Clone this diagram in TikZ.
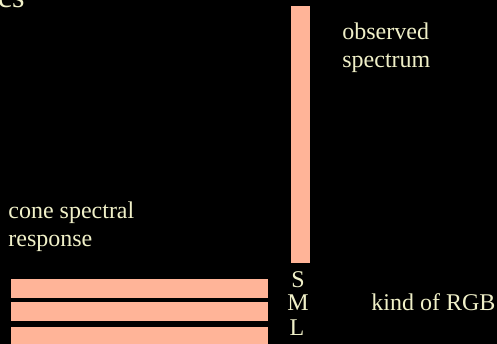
\documentclass[tikz,border=0pt]{standalone}
\usepackage{fontspec}
\setmainfont{Liberation Serif}
\usetikzlibrary{positioning}
\definecolor{bgblack}{RGB}{0,0,0}
\definecolor{barsalmon}{RGB}{255,180,152}
\definecolor{textcream}{RGB}{240,240,200}
\tikzset{
  every picture/.style={line width=0.75pt},
  bar/.style={fill=barsalmon, draw=none, inner sep=0pt, anchor=north west},
  label/.style={text=textcream, inner sep=0pt, anchor=base west, align=left,
    font=\fontsize{24}{28}\selectfont},
}

\begin{document}
\begin{tikzpicture}[x=1pt,y=-1pt]
    % Frame
    \fill[bgblack] (0,0) rectangle (497,344);
    \useasboundingbox (0,0) rectangle (497,344);
    % Title fragment
    \node[label, anchor=base east, font=\fontsize{32}{36}\selectfont] (title) at (25,8) {cs};
    % Observed spectrum
    \node[bar, minimum width=19pt, minimum height=257pt] (spectrum) at (291,6) {};
    \node[label] (obslabel) at (342,68) {observed\\spectrum};
    % Cone responses
    \node[label] (conelabel) at (8,247) {cone spectral\\response};
    \foreach \name/\y in {S/278.5, M/302, L/327}
        \node[bar, minimum width=257pt, minimum height=19pt] (bar\name) at (11,\y) {};
    \node[label, anchor=base] (sigS) at (298,287) {S};
    \node[label, anchor=base] (sigM) at (298,310) {M};
    \node[label, anchor=base] (sigL) at (297,335) {L};
    % Result
    \node[label] (rgb) at (371,310) {kind of RGB};
\end{tikzpicture}
\end{document}
